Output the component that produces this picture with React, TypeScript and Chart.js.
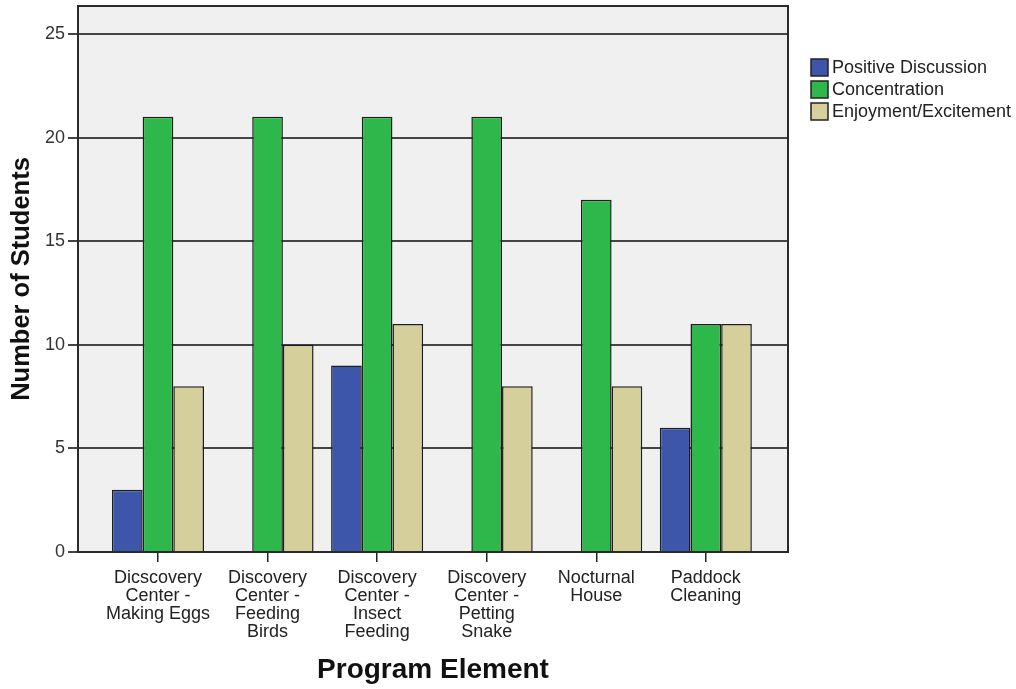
import React, { useEffect, useRef } from "react";
import { Chart, registerables } from "chart.js";

Chart.register(...registerables);

const categories: string[][] = [
  ["Dicscovery", "Center -", "Making Eggs"],
  ["Discovery", "Center -", "Feeding", "Birds"],
  ["Discovery", "Center -", "Insect", "Feeding"],
  ["Discovery", "Center -", "Petting", "Snake"],
  ["Nocturnal", "House"],
  ["Paddock", "Cleaning"],
];
const seriesNames = ["Positive Discussion", "Concentration", "Enjoyment/Excitement"];
const positiveDiscussion = [3, 0, 9, 0, 0, 6];
const concentration = [21, 21, 21, 21, 17, 11];
const enjoyment = [8, 10, 11, 8, 8, 11];
const yTicks = [0, 5, 10, 15, 20, 25];
const yAxisTitle = "Number of Students";
const xAxisTitle = "Program Element";

const seriesColors = ["#3d56aa", "#2eb84b", "#d5cf9b"];
const FONT = "'Liberation Sans', Arial, sans-serif";

const bgPlugin = {
  id: "plotBg",
  beforeDraw(chart: any) {
    const { ctx, chartArea: a } = chart;
    ctx.save();
    ctx.fillStyle = "#f0f0f0";
    ctx.fillRect(a.left, a.top, a.right - a.left, a.bottom - a.top);
    ctx.restore();
  },
  afterDraw(chart: any) {
    const { ctx, chartArea: a } = chart;
    ctx.save();
    ctx.strokeStyle = "#2a2a2a";
    ctx.lineWidth = 2;
    ctx.strokeRect(a.left, a.top, a.right - a.left, a.bottom - a.top);
    // legend
    const x0 = a.right + 23;
    const y0 = 59;
    chart.data.datasets.forEach((ds: any, i: number) => {
      const y = y0 + i * 22;
      ctx.fillStyle = ds.backgroundColor;
      ctx.fillRect(x0, y, 17, 17);
      ctx.strokeStyle = "#222";
      ctx.lineWidth = 1.5;
      ctx.strokeRect(x0, y, 17, 17);
      ctx.fillStyle = "#222";
      ctx.font = `18px ${FONT}`;
      ctx.textBaseline = "middle";
      ctx.textAlign = "left";
      ctx.fillText(ds.label, x0 + 21, y + 9);
    });
    ctx.restore();
  },
};

export default function App() {
  const ref = useRef<HTMLCanvasElement | null>(null);
  useEffect(() => {
    const canvas = ref.current;
    if (!canvas) return;
    const seriesValues = [positiveDiscussion, concentration, enjoyment];
    const chart = new Chart(canvas, {
      type: "bar",
      data: {
        datasets: seriesValues.map((vals, si) => ({
          label: seriesNames[si],
          data: vals.map((v, i) => ({ x: i, y: v })),
          backgroundColor: seriesColors[si],
          borderColor: "#1e1e1e",
          borderWidth: 1.5,
          categoryPercentage: 0.84,
          barPercentage: 1,
        })),
      },
      options: {
        responsive: false,
        animation: false,
        devicePixelRatio: 1,
        layout: { padding: { top: 6, right: 228, left: 0, bottom: 0 } },
        plugins: {
          legend: { display: false },
          tooltip: { enabled: false },
        },
        scales: {
          x: {
            type: "linear",
            min: -0.73,
            max: 5.75,
            offset: false,
            afterBuildTicks(scale: any) {
              scale.ticks = categories.map((_, i) => ({ value: i }));
            },
            afterFit(scale: any) {
              scale.height = 137;
              scale.paddingLeft = 0;
              scale.paddingRight = 0;
            },
            ticks: {
              autoSkip: false,
              maxRotation: 0,
              minRotation: 0,
              padding: 7,
              color: "#222",
              font: { family: FONT, size: 18, lineHeight: 1.0 },
              callback: (v: any) => categories[Math.round(v)] ?? "",
            },
            grid: {
              offset: false,
              drawOnChartArea: false,
              drawTicks: true,
              tickLength: 10,
              color: "#222",
              lineWidth: 1.5,
            },
            border: { display: true, color: "#222", width: 2 },
            title: {
              display: true,
              text: xAxisTitle,
              color: "#111",
              font: { family: FONT, size: 28, weight: "bold", lineHeight: 1.1 },
              padding: { top: 0, bottom: 3 },
            },
          },
          y: {
            min: 0,
            max: 26.35,
            afterBuildTicks(scale: any) {
              scale.ticks = yTicks.map((v) => ({ value: v }));
            },
            afterFit(scale: any) {
              scale.width = 78;
              scale.paddingTop = 0;
              scale.paddingBottom = 0;
            },
            ticks: {
              padding: 3,
              color: "#333",
              font: { family: FONT, size: 18 },
            },
            grid: {
              color: "#444",
              lineWidth: 2,
              tickLength: 10,
              drawTicks: true,
            },
            border: { display: true, color: "#222", width: 2 },
            title: {
              display: true,
              text: yAxisTitle,
              color: "#111",
              font: { family: FONT, size: 25.5, weight: "bold", lineHeight: 1.0 },
              padding: { top: 9, bottom: 0 },
            },
          },
        },
      },
      plugins: [bgPlugin],
    } as any);
    return () => chart.destroy();
  }, []);
  return (
    <div style={{ position: "fixed", left: 0, top: 0, width: 1016, height: 689, background: "#fff" }}>
      <canvas ref={ref} width={1016} height={689} style={{ display: "block" }} />
    </div>
  );
}
